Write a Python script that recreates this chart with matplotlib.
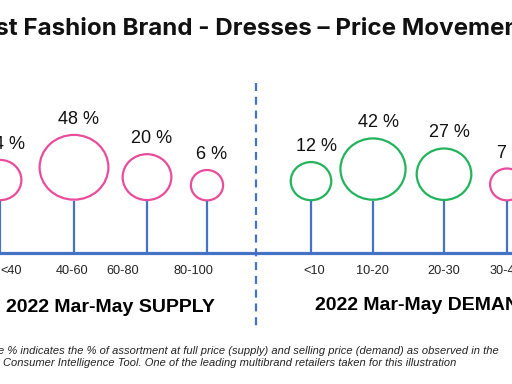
import numpy as np
import matplotlib
matplotlib.use('Agg')
import matplotlib.pyplot as plt
from matplotlib.patches import Ellipse

# data
supply_bins = ['<40', '40-60', '60-80', '80-100']
supply_pct = [14, 48, 20, 6]
demand_bins = ['<10', '10-20', '20-30', '30-40']
demand_pct = [12, 42, 27, 7]

# layout (slide is cropped, positions in pixel units)
supply_x = [0, 74, 147, 207]
supply_lab_x = [11, 72, 123, 193]
demand_x = [311, 373, 444, 507]
demand_lab_x = [314, 372, 444, 506]

pink = '#EA4C9C'
green = '#22B35C'
blue = '#4472C4'
supply_col = [pink, pink, pink, pink]
demand_col = [green, green, green, pink]

base_y = 201
axis_y = 253

fig = plt.figure(figsize=(5.12, 3.84), dpi=100)
ax = fig.add_axes([0, 0, 1, 1])
ax.set_xlim(0, 512)
ax.set_ylim(384, 0)
ax.axis('off')


def lollipops(xs, pcts, bins, lab_xs, cols):
    for x, p, b, lx, c in zip(xs, pcts, bins, lab_xs, cols):
        d = 12 + 8 * np.sqrt(p)
        ax.add_patch(Ellipse((x, base_y - d / 2), d * 1.02, d * 0.96, fill=False,
                             edgecolor=c, linewidth=1.6))
        ax.plot([x, x], [base_y, axis_y], color=blue, linewidth=1.6,
                solid_capstyle='butt')
        ax.text(x + 5, base_y - d - 6, '%d %%' % p, ha='center', va='bottom',
                fontsize=13, family='Liberation Sans', color='#111111')
        ax.text(lx, 271, b, ha='center', va='center', fontsize=9.2,
                family='Liberation Sans', color='#222222')


lollipops(supply_x, supply_pct, supply_bins, supply_lab_x, supply_col)
lollipops(demand_x, demand_pct, demand_bins, demand_lab_x, demand_col)

# horizontal axis
ax.plot([0, 512], [axis_y, axis_y], color=blue, linewidth=2.3)

# divider
ax.plot([256, 256], [83, 329], color=blue, linewidth=1.6,
        linestyle=(0, (3.6, 2.6)))

# title (cropped on both sides)
ax.text(248, 35, 'Fast Fashion Brand - Dresses \u2013 Price Movement',
        ha='center', va='baseline', fontsize=17.4, family='Inter',
        fontweight='bold', color='#111111')

ax.text(110, 307, '2022 Mar-May SUPPLY', ha='center', va='center',
        fontsize=14, family='Liberation Sans', fontweight='bold')
ax.text(315, 306, '2022 Mar-May DEMAND', ha='left', va='center',
        fontsize=14, family='Liberation Sans', fontweight='bold')

ax.text(499, 351, 'The % indicates the % of assortment at full price (supply) and selling price '
        '(demand) as observed in the', ha='right', va='center', fontsize=8.0,
        family='Liberation Sans', style='italic', color='#222222')
ax.text(3, 363, 'Consumer Intelligence Tool. One of the leading multibrand retailers '
        'taken for this illustration', ha='left', va='center', fontsize=8.0,
        family='Liberation Sans', style='italic', color='#222222')

fig.savefig('out.png', dpi=100)
